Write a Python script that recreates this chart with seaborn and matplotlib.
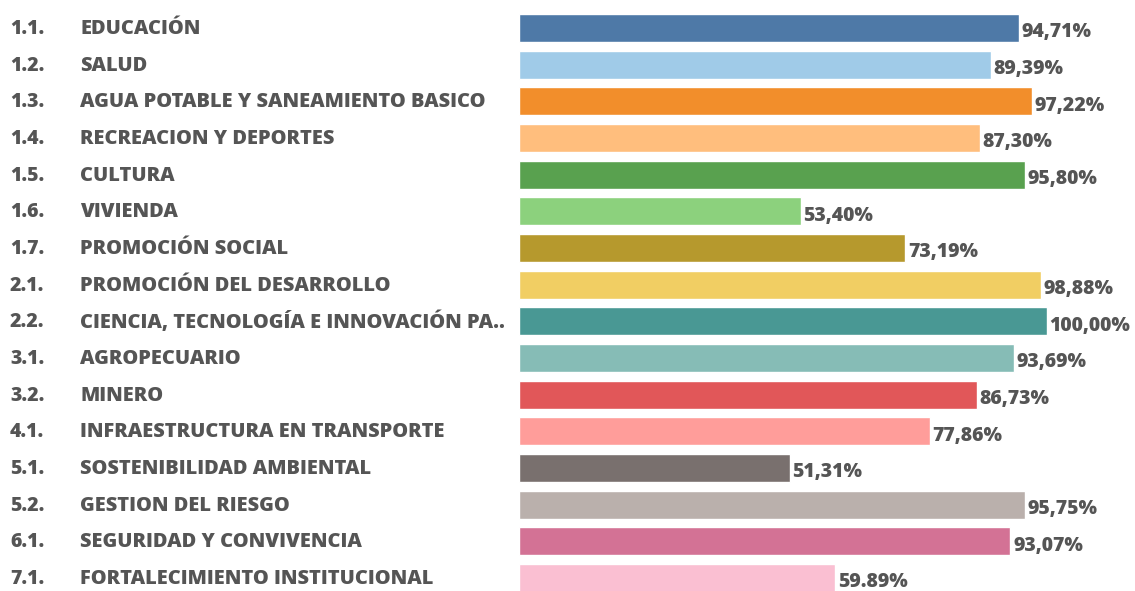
import matplotlib
matplotlib.use("Agg")
import matplotlib.pyplot as plt
import matplotlib.transforms as mtransforms
import pandas as pd
import seaborn as sns

codes = ["1.1.", "1.2.", "1.3.", "1.4.", "1.5.", "1.6.", "1.7.", "2.1.",
         "2.2.", "3.1.", "3.2.", "4.1.", "5.1.", "5.2.", "6.1.", "7.1."]
sectors = ["EDUCACIÓN", "SALUD", "AGUA POTABLE Y SANEAMIENTO BASICO",
           "RECREACION Y DEPORTES", "CULTURA", "VIVIENDA", "PROMOCIÓN SOCIAL",
           "PROMOCIÓN DEL DESARROLLO", "CIENCIA, TECNOLOGÍA E INNOVACIÓN PA..",
           "AGROPECUARIO", "MINERO", "INFRAESTRUCTURA EN TRANSPORTE",
           "SOSTENIBILIDAD AMBIENTAL", "GESTION DEL RIESGO",
           "SEGURIDAD Y CONVIVENCIA", "FORTALECIMIENTO INSTITUCIONAL"]
values = [94.71, 89.39, 97.22, 87.30, 95.80, 53.40, 73.19, 98.88,
          100.00, 93.69, 86.73, 77.86, 51.31, 95.75, 93.07, 59.89]
value_labels = ["94,71%", "89,39%", "97,22%", "87,30%", "95,80%", "53,40%",
                "73,19%", "98,88%", "100,00%", "93,69%", "86,73%", "77,86%",
                "51,31%", "95,75%", "93,07%", "59.89%"]
colors = ["#4E79A7", "#A0CBE8", "#F28E2B", "#FFBE7D", "#59A14F", "#8CD17D",
          "#B6992D", "#F1CE63", "#499894", "#86BCB6", "#E15759", "#FF9D9A",
          "#79706E", "#BAB0AC", "#D37295", "#FABFD2"]

df = pd.DataFrame({"codigo": codes, "sector": sectors, "avance": values})

sns.set_style("white")
plt.rcParams["font.family"] = ["Open Sans", "DejaVu Sans"]
text_color = "#555555"

fig = plt.figure(figsize=(11.35, 5.91), dpi=100)
W, H = 1135, 591
# axes spans full height; x from bar start to 100% mark
ax = fig.add_axes([519 / W, 0, (1047 - 519) / W, 1])

sns.barplot(data=df, y="sector", x="avance", hue="sector", palette=colors,
            legend=False, width=0.76, orient="h", ax=ax, saturation=1)

pitch = 36.67
top = -28 / pitch
bottom = (H - 28) / pitch
ax.set_ylim(bottom, top)
ax.set_xlim(0, 100)
ax.axis("off")

trans = mtransforms.blended_transform_factory(fig.transFigure, ax.transData)
for i, (c, s, v, lab) in enumerate(zip(codes, sectors, values, value_labels)):
    ax.text(10 / W, i + 0.03, c, transform=trans, ha="left", va="center",
            fontsize=14, fontweight="heavy", color=text_color)
    ax.text(80 / W, i + 0.03, s, transform=trans, ha="left", va="center",
            fontsize=14.4, fontweight="heavy", color=text_color)
    ax.text(v + 0.5, i + 0.12, lab, ha="left", va="center", fontsize=14,
            fontweight="heavy", color=text_color, clip_on=False)

fig.savefig("out.png", dpi=100)
